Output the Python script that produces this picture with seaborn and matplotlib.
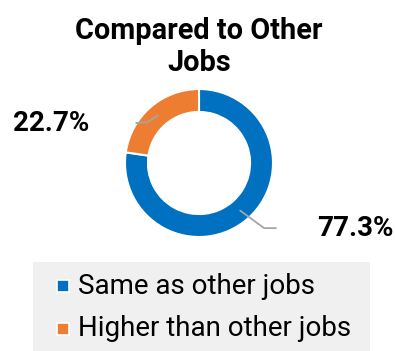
import numpy as np
import matplotlib
matplotlib.use("Agg")
import matplotlib.pyplot as plt
from matplotlib.patches import Rectangle
import seaborn as sns

sns.set_style("white")
plt.rcParams['font.family'] = ['Roboto', 'DejaVu Sans']

title = "Compared to Other\nJobs"
categories = ["Same as other jobs", "Higher than other jobs"]
values = [77.3, 22.7]
labels = ["77.3%", "22.7%"]
colors = ["#0070C0", "#ED7D31"]

W, H = 395, 351
fig = plt.figure(figsize=(W / 100, H / 100), dpi=100)

cx, cy, R = 199, 163, 74
ax = fig.add_axes([(cx - R) / W, (H - cy - R) / H, 2 * R / W, 2 * R / H])
wedges, _ = ax.pie(values, colors=colors, startangle=90, counterclock=False,
                   radius=1, wedgeprops=dict(width=0.31, edgecolor="white", linewidth=1.5))
ax.set_xlim(-1, 1)
ax.set_ylim(-1, 1)
ax.set_aspect("equal")
ax.axis("off")

# leader lines (elbow, end) and label positions in axes data units
elbows = {0: ((0.88, -0.88), (1.04, -0.88)), 1: ((-0.70, 0.55), (-0.85, 0.54))}
label_pos = {0: (2.11, -0.88), 1: (-2.0, 0.54)}
for i, w in enumerate(wedges):
    mid = np.deg2rad((w.theta1 + w.theta2) / 2)
    sx, sy = 0.85 * np.cos(mid), 0.85 * np.sin(mid)
    (ex, ey), (hx, hy) = elbows[i]
    ax.plot([sx, ex, hx], [sy, ey, hy], color="#A5A5A5", lw=1.3, clip_on=False)
    lx, ly = label_pos[i]
    ax.text(lx, ly, labels[i], ha="center", va="center", fontsize=20,
            fontweight="bold", color="black", clip_on=False)

fig.text(cx / W, 1 - 47 / H, title, ha="center", va="center", fontsize=20.8,
         fontweight="bold", linespacing=1.2, color="black")

# legend panel
fig.patches.append(Rectangle((33 / W, 0), (370 - 33) / W, (H - 262) / H,
                             transform=fig.transFigure, facecolor="#F0F0F0",
                             edgecolor="none", zorder=0))
for i, (cat, col) in enumerate(zip(categories, colors)):
    yc = 286 + i * 43
    s = 12
    fig.patches.append(Rectangle(((63 - s / 2) / W, (H - yc - s / 2) / H), s / W, s / H,
                                 transform=fig.transFigure, facecolor=col,
                                 edgecolor="white", linewidth=1.2, zorder=1))
    fig.text(78 / W, 1 - yc / H, cat, ha="left", va="center", fontsize=20,
             color="black")

fig.savefig("out.png", dpi=100)
